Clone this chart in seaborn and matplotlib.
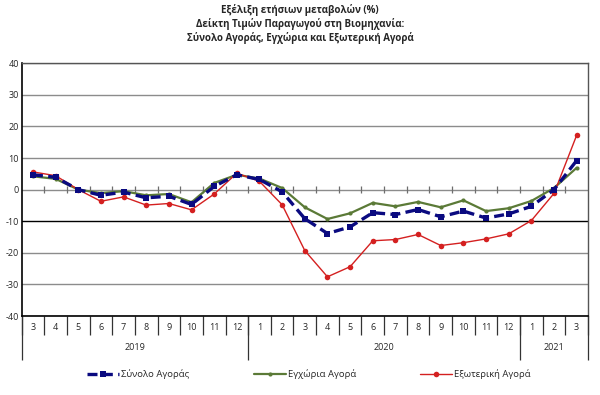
import numpy as np
import pandas as pd
import matplotlib
matplotlib.use("Agg")
import matplotlib.pyplot as plt
import matplotlib.transforms as mtransforms
import seaborn as sns

# month labels, 2019-03 .. 2021-03
months = ["3", "4", "5", "6", "7", "8", "9", "10", "11", "12",
          "1", "2", "3", "4", "5", "6", "7", "8", "9", "10", "11", "12",
          "1", "2", "3"]
years = ["2019", "2020", "2021"]
year_len = [10, 12, 3]

total = [4.7, 3.9, 0.0, -1.8, -0.8, -2.6, -2.1, -4.7, 1.0, 4.7,
         3.2, -0.7, -9.2, -13.9, -11.8, -7.3, -7.9, -6.3, -8.6, -6.8, -9.0, -7.7,
         -5.3, 0.0, 9.2]
domestic = [4.2, 3.4, 0.0, -1.1, -0.5, -1.8, -1.4, -4.0, 2.1, 4.7,
            3.5, 0.5, -5.6, -9.3, -7.5, -4.2, -5.3, -3.9, -5.6, -3.4, -6.8, -5.9,
            -3.6, 0.5, 6.9]
foreign = [5.6, 4.4, 0.0, -3.7, -2.3, -4.9, -4.4, -6.4, -1.4, 5.2,
           2.6, -4.8, -19.3, -27.6, -24.4, -16.2, -15.8, -14.2, -17.7, -16.8, -15.6, -14.0,
           -9.8, -1.2, 17.2]

labels = ["Σύνολο Αγοράς", "Εγχώρια Αγορά", "Εξωτερική Αγορά"]
yticks = [40, 30, 20, 10, 0, -10, -20, -30, -40]

sns.set_style("white")
plt.rcParams["font.family"] = ["Open Sans", "DejaVu Sans"]

fig = plt.figure(figsize=(6, 3.95), dpi=100)
ax = fig.add_axes([0.036, 0.2, 0.944, 0.64])

x = np.arange(len(months))
df = pd.DataFrame({"x": x, "total": total, "domestic": domestic, "foreign": foreign})

# grid lines
for v in yticks:
    col = "black" if v == -10 else "#8c8c8c"
    ax.axhline(v, color=col, lw=1.0, zorder=0)
# small ticks on the zero line
ax.vlines(x[:-1] + 0.5, -1.1, 1.1, color="#6e6e6e", lw=0.9, zorder=1)

sns.lineplot(data=df, x="x", y="domestic", ax=ax, color="#5b7a37", lw=1.6,
             marker="o", markersize=3, markeredgewidth=0, label=labels[1], zorder=3)
sns.lineplot(data=df, x="x", y="foreign", ax=ax, color="#d42020", lw=1.0,
             marker="o", markersize=4, markeredgewidth=0, label=labels[2], zorder=4)
sns.lineplot(data=df, x="x", y="total", ax=ax, color="#0a0a80", lw=2.4,
             linestyle=(0, (3, 1.6)), marker="s", markersize=4, markeredgewidth=0,
             label=labels[0], zorder=5)

ax.set_xlim(-0.5, len(months) - 0.5)
ax.set_ylim(-40, 40)
ax.set_yticks(yticks)
ax.set_yticklabels([str(v) for v in yticks], fontsize=6.5)
ax.tick_params(axis="y", length=0, pad=2)
ax.set_xticks(x)
ax.set_xticklabels(months, fontsize=6.5)
ax.tick_params(axis="x", length=0, pad=5)
ax.set_xlabel("")
ax.set_ylabel("")

for s in ["top", "right"]:
    ax.spines[s].set_color("#555555")
    ax.spines[s].set_linewidth(1.0)
ax.spines["left"].set_color("black")
ax.spines["bottom"].set_color("black")
ax.spines["left"].set_linewidth(1.2)
ax.spines["bottom"].set_linewidth(1.2)

# category table under the axis
trans = mtransforms.blended_transform_factory(ax.transData, ax.transAxes)
bounds = np.arange(len(months) + 1) - 0.5
ax.vlines(bounds, -0.075, 0, transform=trans, color="#333333", lw=0.9, clip_on=False)
edges = np.concatenate([[0], np.cumsum(year_len)]) - 0.5
ax.vlines(edges, -0.175, 0, transform=trans, color="#333333", lw=0.9, clip_on=False)
for i, yr in enumerate(years):
    ax.text((edges[i] + edges[i + 1]) / 2, -0.125, yr, transform=trans,
            ha="center", va="center", fontsize=6.5)

ax.get_legend().remove()
h, l = ax.get_legend_handles_labels()
hd = {lab: hh for hh, lab in zip(h, l)}
fig.legend([hd[t] for t in labels], labels, loc="center", ncol=3,
           bbox_to_anchor=(0.515, 0.053), frameon=False, fontsize=6.8,
           handlelength=3.4, columnspacing=6.8, handletextpad=0.2)

fig.text(0.5, 0.975, "Εξέλιξη ετήσιων μεταβολών (%)", ha="center", va="center",
         fontsize=7, fontweight="bold")
fig.text(0.5, 0.94, "Δείκτη Τιμών Παραγωγού στη Βιομηχανία:", ha="center", va="center",
         fontsize=7, fontweight="bold")
fig.text(0.5, 0.905, "Σύνολο Αγοράς, Εγχώρια και Εξωτερική Αγορά", ha="center",
         va="center", fontsize=7, fontweight="bold")

fig.savefig("out.png", dpi=100, facecolor="white")
